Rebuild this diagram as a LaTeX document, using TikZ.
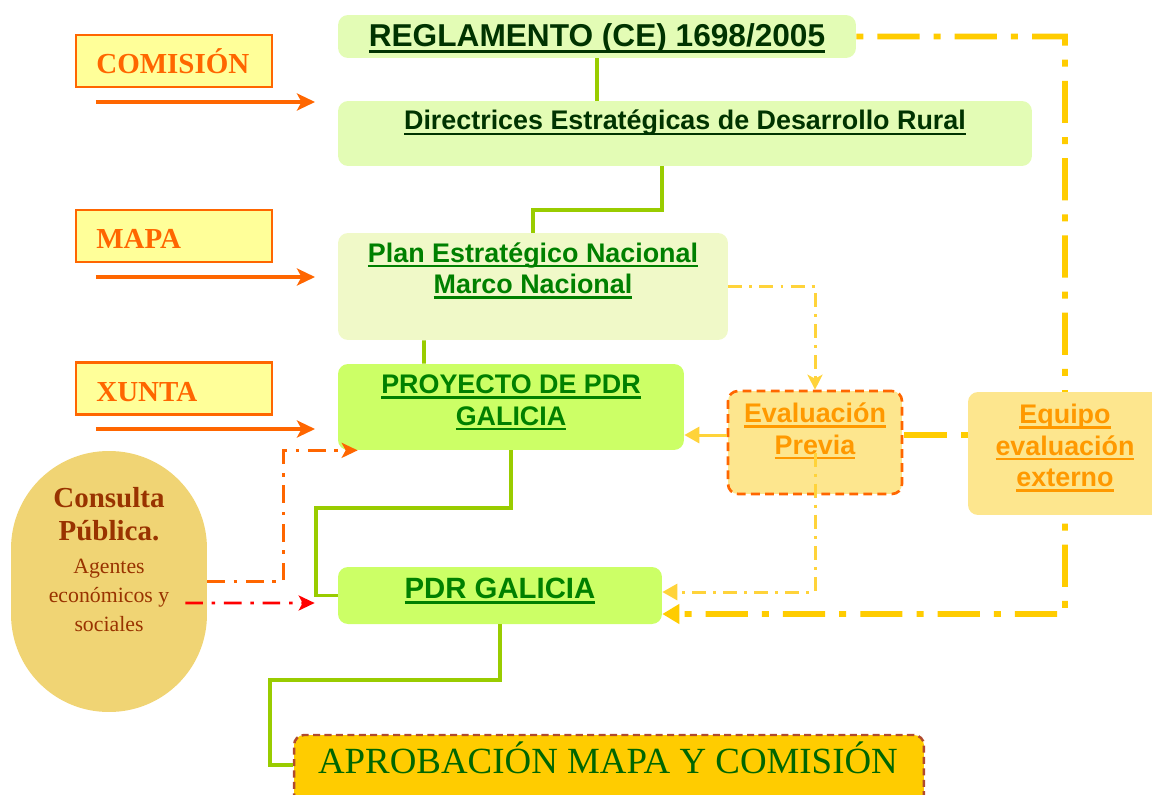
\documentclass[tikz,border=0pt]{standalone}
\usepackage{fontspec}
\setmainfont{Liberation Serif}
\setsansfont{Liberation Sans}
\usetikzlibrary{arrows.meta}

\definecolor{boxlight}{HTML}{E3FCB5}
\definecolor{boxpale}{HTML}{F0F9C8}
\definecolor{boxlime}{HTML}{CCFF66}
\definecolor{txtdark}{HTML}{003300}
\definecolor{txtgreen}{HTML}{008000}
\definecolor{linkgreen}{HTML}{99CC00}
\definecolor{orng}{HTML}{FF6600}
\definecolor{lblfill}{HTML}{FFFF99}
\definecolor{evalfill}{HTML}{FDE68E}
\definecolor{evaltxt}{HTML}{FF9900}
\definecolor{yelthick}{HTML}{FFCC00}
\definecolor{yelthin}{HTML}{FFD33A}
\definecolor{aprobfill}{HTML}{FFCC00}
\definecolor{aprobedge}{HTML}{B04A2E}
\definecolor{aprobtxt}{HTML}{006600}
\definecolor{consfill}{HTML}{F0D474}
\definecolor{constxt}{HTML}{993300}

% underline a bit below the baseline, thick
\newcommand{\ulx}[1]{\setbox0=\hbox{#1}\rlap{\vrule width\wd0 height-0.1em depth0.2em}\box0}

\begin{document}
\begin{tikzpicture}[x=0.02cm,y=-0.02cm,
	box/.style={rounded corners=0.2cm,inner sep=0pt},
	hdr/.style={font=\sffamily\bfseries\fontsize{15.3}{18}\selectfont,align=center,inner sep=0pt,anchor=base},
	lbl/.style={draw=orng,line width=1.2pt,fill=lblfill,minimum width=3.92cm,minimum height=1.04cm,inner sep=0pt},
	lbltxt/.style={font=\bfseries\fontsize{16.5}{20}\selectfont,text=orng,anchor=base west,inner sep=0pt},
	link/.style={linkgreen,line width=2.2pt},
	feed/.style={orng,line width=2pt,-{Stealth[length=0.36cm,width=0.34cm,inset=0.09cm]}},
	evthick/.style={yelthick,line width=3.2pt,dash pattern=on 4pt off 8pt on 24pt off 8pt},
	evthin/.style={yelthin,line width=1.7pt,dash pattern=on 8pt off 4pt on 1.7pt off 4pt}]
			\useasboundingbox (0,0) rectangle (1152,794);
			% main chain (multi-line texts sit on the baseline of their last line)
			\node[box,fill=boxlight,minimum width=10.36cm,minimum height=0.86cm] (reg) at (597,36.5) {};
			\node[hdr,text=txtdark,font=\sffamily\bfseries\fontsize{18}{20}\selectfont] (reg-t) at (597,46.5) {\ulx{REGLAMENTO (CE) 1698/2005}};
			\node[box,fill=boxlight,minimum width=13.88cm,minimum height=1.3cm] (dir) at (685,133.5) {};
			\node[hdr,text=txtdark] (dir-t) at (685,130) {\ulx{Directrices Estratégicas de Desarrollo Rural}};
			\node[box,fill=boxpale,minimum width=7.8cm,minimum height=2.14cm] (pen) at (533,286.5) {};
			\node[hdr,text=txtgreen] (pen-t) at (533,293.7) {\ulx{Plan Estratégico Nacional}\\\ulx{Marco Nacional}};
			\node[box,fill=boxlime,minimum width=6.92cm,minimum height=1.72cm] (proy) at (511,407) {};
			\node[hdr,text=txtgreen] (proy-t) at (511,425) {\ulx{PROYECTO DE PDR}\\\ulx{GALICIA}};
			\node[box,fill=boxlime,minimum width=6.48cm,minimum height=1.14cm] (pdr) at (500,595.5) {};
			\node[hdr,text=txtgreen,font=\sffamily\bfseries\fontsize{16.7}{20}\selectfont] (pdr-t) at (500,598.3) {\ulx{PDR GALICIA}};
			\node[box,draw=aprobedge,line width=1.4pt,dash pattern=on 4pt off 2.5pt,fill=aprobfill,minimum width=12.6cm,minimum height=1.4cm] (aprob) at (609,770) {};
			\node[font=\fontsize{21}{24}\selectfont,text=aprobtxt,anchor=base,inner sep=0pt] (aprob-t) at (608,773.3) {APROBACIÓN MAPA Y COMISIÓN};
			\draw[link] (reg.south) -- (reg.south |- dir.north);
			\draw[link] ([xshift=-0.46cm]dir.south) -- ++(0,44) -| (pen.north);
			\draw[link] ([xshift=-2.18cm]pen.south) -- ([xshift=-1.74cm]proy.north);
			\draw[link] (proy.south) -- ++(0,58) -| ([xshift=-0.44cm]pdr.west) -- (pdr.west);
			\draw[link] (pdr.south) -- ++(0,56) -| ([xshift=-0.46cm,yshift=0.1cm]aprob.west) -- ([yshift=0.1cm]aprob.west);
			% who drafts
			\node[lbl] (com) at (174,61) {};
			\node[lbltxt] (com-t) at (96,73.3) {COMISIÓN};
			\node[lbl] (mapa) at (174,236) {};
			\node[lbltxt] (mapa-t) at (96,248.3) {MAPA};
			\node[lbl] (xun) at (174,388.5) {};
			\node[lbltxt] (xun-t) at (96,401.7) {XUNTA};
			\coordinate (com-end) at (315,102);
			\coordinate (mapa-end) at (315,277);
			\coordinate (xun-end) at (315,429);
			\draw[feed] (com.south west |- com-end) ++(21,0) -- (com-end);
			\draw[feed] (mapa.south west |- mapa-end) ++(21,0) -- (mapa-end);
			\draw[feed] (xun.south west |- xun-end) ++(21,0) -- (xun-end);
			% evaluation
			\coordinate (ext-corner) at (1065,614);
			\draw[evthick,-{Triangle[length=0.34cm,width=0.38cm]}] (reg.east) -| (ext-corner) -- ([yshift=-0.37cm]pdr.east);
			\node[box,fill=evalfill,minimum width=3.88cm,minimum height=2.46cm] (equi) at (1065,453.5) {};
			\node[hdr,text=evaltxt] (equi-t) at (1065,486.7) {\ulx{Equipo}\\\ulx{evaluación}\\\ulx{externo}};
			\node[box,draw=orng,line width=1.5pt,dash pattern=on 5pt off 3pt,fill=evalfill,minimum width=3.48cm,minimum height=2.06cm] (eval) at (815,442.5) {};
			\node[hdr,text=evaltxt] (eval-t) at (815,454) {\ulx{Evaluación}\\\ulx{Previa}};
			\draw[evthick] ([yshift=0.37cm]equi.west) -- ([yshift=0.37cm]equi.west -| eval.east);
			\draw[yelthin,line width=1.7pt,-{Triangle[length=0.3cm,width=0.32cm]}] ([yshift=0.15cm]eval.west) -- ([yshift=0.15cm]eval.west -| proy.east);
			\draw[evthin,-{Stealth[length=0.3cm,width=0.3cm,inset=0.08cm]}] (pen.east) -| (eval.north);
			\draw[evthin,-{Triangle[length=0.3cm,width=0.32cm]}] ([yshift=-0.2cm]eval.center) |- ([yshift=0.07cm]pdr.east);
			% public consultation
			\node[fill=consfill,rounded corners=1.95cm,minimum width=3.92cm,minimum height=5.22cm,inner sep=0pt] (cons) at (109,581.5) {};
			\node[font=\bfseries\fontsize{16.5}{19}\selectfont,text=constxt,align=center,anchor=base,inner sep=0pt] (cons-t) at (109,540.7) {Consulta\\Pública.};
			\node[font=\fontsize{12.4}{16.5}\selectfont,text=constxt,align=center,anchor=base,inner sep=0pt] (cons-s) at (109,631) {Agentes\\económicos y\\sociales};
			\draw[orng,line width=1.7pt,dash pattern=on 10pt off 5pt on 2pt off 5pt,-{Stealth[length=0.32cm,width=0.3cm,inset=0.08cm]}] (cons.east) -- ++(76,0) |- ([xshift=0.4cm]proy.south west);
			\draw[red,line width=1.7pt,dash pattern=on 10pt off 5pt on 2pt off 5pt,-{Stealth[length=0.32cm,width=0.3cm,inset=0.08cm]}] ([xshift=-0.44cm,yshift=-0.43cm]cons.east) -- ([xshift=-0.46cm,yshift=-0.15cm]pdr.west);
		\end{tikzpicture}
\end{document}
